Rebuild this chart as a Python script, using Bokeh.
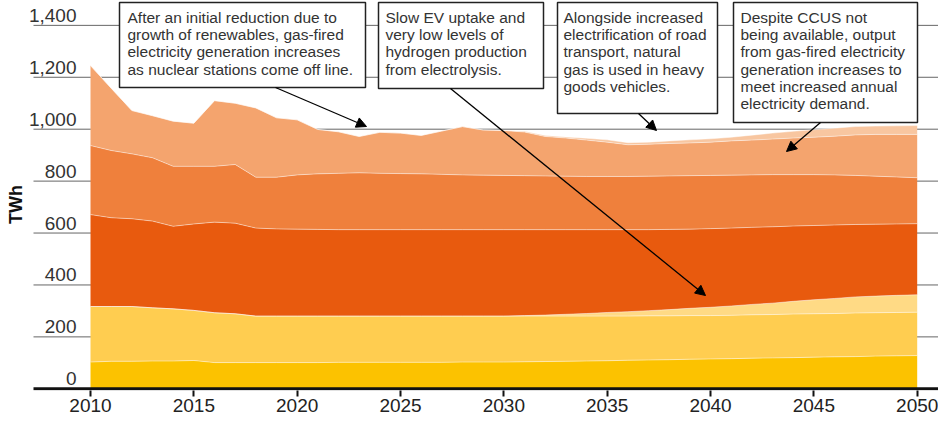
import numpy as np
from bokeh.plotting import figure
from bokeh.models import ColumnDataSource, FixedTicker, Range1d, Arrow, NormalHead
from bokeh.core.properties import value
from bokeh.embed import file_html
from bokeh.resources import INLINE

# ---------------- data (TWh) ----------------
years = list(range(2010, 2051))
series_names = ["s1", "s2", "s3", "s4", "s5", "s6", "s7"]
s1 = [103, 106, 106, 107, 107, 109, 101, 101, 101, 101, 101, 101, 102, 102, 102, 102, 102, 102,
      103, 103, 103, 104, 105, 106, 107, 108, 110, 111, 112, 114, 115, 116, 118, 119, 120, 122,
      123, 124, 126, 127, 128]
s2 = [214, 211, 211, 205, 201, 193, 192, 188, 179, 179, 179, 179, 178, 178, 178, 178, 178, 178,
      177, 177, 177, 176, 175, 174, 173, 172, 170, 170, 169, 168, 167, 167, 167, 167, 168, 167,
      167, 168, 167, 167, 167]
s3 = [0] * 21 + [2, 4, 7, 10, 14, 17, 20, 24, 28, 32, 36, 40, 44, 49, 54, 58, 62, 64, 66, 67]
s4 = [354, 342, 338, 334, 318, 333, 349, 349, 339, 336, 335, 334, 333, 333, 333, 333, 333, 333,
      333, 333, 333, 331, 329, 326, 323, 319, 316, 312, 309, 305, 303, 300, 297, 294, 290, 286,
      283, 279, 277, 275, 274]
s5 = [266, 259, 250, 244, 231, 222, 215, 226, 196, 199, 209, 214, 217, 219, 217, 216, 215, 213,
      211, 210, 209, 208, 207, 206, 205, 205, 205, 206, 206, 206, 205, 204, 202, 201, 198, 196,
      193, 189, 185, 181, 177]
s6 = [308, 240, 167, 162, 174, 166, 253, 236, 267, 229, 212, 171, 160, 140, 158, 156, 148, 167,
      186, 174, 173, 168, 152, 147, 140, 132, 122, 123, 125, 126, 128, 132, 134, 137, 141, 144,
      149, 156, 161, 164, 167]
s7 = [0] * 21 + [3, 4, 4, 7, 9, 8, 8, 10, 12, 13, 14, 19, 23, 26, 29, 31, 32, 32, 33, 34]

y_tick_values = [0, 200, 400, 600, 800, 1000, 1200, 1400]
y_tick_labels = ["0", "200", "400", "600", "800", "1,000", "1,200", "1,400"]
x_tick_values = [2010, 2015, 2020, 2025, 2030, 2035, 2040, 2045, 2050]

notes = [
    "After an initial reduction due to\ngrowth of renewables, gas-fired\nelectricity generation increases\nas nuclear stations come off line.",
    "Slow EV uptake and\nvery low levels of\nhydrogen production\nfrom electrolysis.",
    "Alongside increased\nelectrification of road\ntransport, natural\ngas is used in heavy\ngoods vehicles.",
    "Despite CCUS not\nbeing available, output\nfrom gas-fired electricity\ngeneration increases to\nmeet increased annual\nelectricity demand.",
]

# ---------------- styles / layout ----------------
colors = ["#FCC200", "#FFCD50", "#FFDA85", "#E85A0E", "#EF803C", "#F4A46E", "#F8C6A0"]
FONT = "Liberation Sans"
PX_YEAR = 20.6675          # pixels per year
PX_TWH = 0.2596            # pixels per TWh
FRAME_W, FRAME_H = 938, 390
ZERO_PX = 388.3            # pixel row of the 0 line
x_start = 2010 - 90 / PX_YEAR
x_end = x_start + FRAME_W / PX_YEAR
y_end = ZERO_PX / PX_TWH
y_start = y_end - FRAME_H / PX_TWH


def rx(px):   # pixel column -> year
    return 2010 + (px - 90) / PX_YEAR


def ry(py):   # pixel row -> TWh
    return (ZERO_PX - py) / PX_TWH


p = figure(frame_width=FRAME_W, frame_height=FRAME_H, output_backend="svg",
           toolbar_location=None, y_axis_location=None,
           x_range=Range1d(x_start, x_end), y_range=Range1d(y_start, y_end),
           min_border=0, min_border_left=0, min_border_right=0, min_border_top=0)
p.outline_line_color = None
p.grid.visible = False
p.background_fill_color = "white"
p.border_fill_color = "white"

# gridlines (under the areas)
grid_y = y_tick_values[1:]
p.segment(x0=[rx(33)] * len(grid_y), x1=[x_end] * len(grid_y), y0=grid_y, y1=grid_y,
          line_color="#666666", line_width=1)

# stacked areas
src = ColumnDataSource(dict(year=years, s1=s1, s2=s2, s3=s3, s4=s4, s5=s5, s6=s6, s7=s7))
p.varea_stack(stackers=series_names, x="year", color=colors, source=src)

cum = np.cumsum(np.array([s1, s2, s3, s4, s5, s6, s7]), axis=0)
for row in cum:
    p.line(years, row, line_color="white", line_alpha=0.45, line_width=1)

# axis line
p.segment(x0=[rx(33)], x1=[x_end], y0=[0], y1=[0], line_color="#111111", line_width=3)

# y tick labels (sitting above the gridlines)
p.text(x=[rx(76)] * len(y_tick_values), y=y_tick_values, text=y_tick_labels,
       text_align="right", text_baseline="alphabetic", y_offset=-10,
       text_font=value(FONT), text_font_size="19px", text_color="#333333")

# y axis title
p.text(x=[rx(15)], y=[ry(204)], text=["TWh"], angle=np.pi / 2,
       text_align="center", text_baseline="middle",
       text_font=value(FONT), text_font_size="18px", text_font_style="bold",
       text_color="#111111")

# annotation boxes (pixel coords: left, right, top, bottom)
boxes = [(119, 365, 2, 87), (378, 543, 2, 88), (557, 717, 2, 113), (733, 917, 2, 122)]
p.quad(left=[rx(b[0]) for b in boxes], right=[rx(b[1]) for b in boxes],
       top=[ry(b[2]) for b in boxes], bottom=[ry(b[3]) for b in boxes],
       fill_color="white", line_color="#222222", line_width=1.5)
text_left = [127, 385, 563, 740]
p.text(x=[rx(t) for t in text_left], y=[ry(8.5)] * 4, text=notes,
       text_align="left", text_baseline="top", text_line_height=1.01,
       text_font=value(FONT), text_font_size="15.5px", text_color="#333333")

# arrows (pixel coords)
arrows = [((275, 87), (366, 126)), ((450, 88), (705, 295)),
          ((638, 113), (656, 130)), ((820, 122), (786, 151))]
for (a, b) in arrows:
    p.add_layout(Arrow(end=NormalHead(size=10, fill_color="black", line_color="black"),
                       x_start=rx(a[0]), y_start=ry(a[1]), x_end=rx(b[0]), y_end=ry(b[1]),
                       line_color="black", line_width=1.3))

# x axis
p.xaxis.ticker = FixedTicker(ticks=x_tick_values)
p.xaxis.axis_line_color = None
p.xaxis.major_tick_out = 6
p.xaxis.major_tick_in = 0
p.xaxis.major_tick_line_width = 2
p.xaxis.major_tick_line_color = "#111111"
p.xaxis.minor_tick_out = 0
p.xaxis.minor_tick_in = 0
p.xaxis.major_label_standoff = 2
p.xaxis.major_label_text_font = FONT
p.xaxis.major_label_text_font_size = "19px"
p.xaxis.major_label_text_color = "#222222"

open("out.html", "w").write(file_html(p, INLINE))
